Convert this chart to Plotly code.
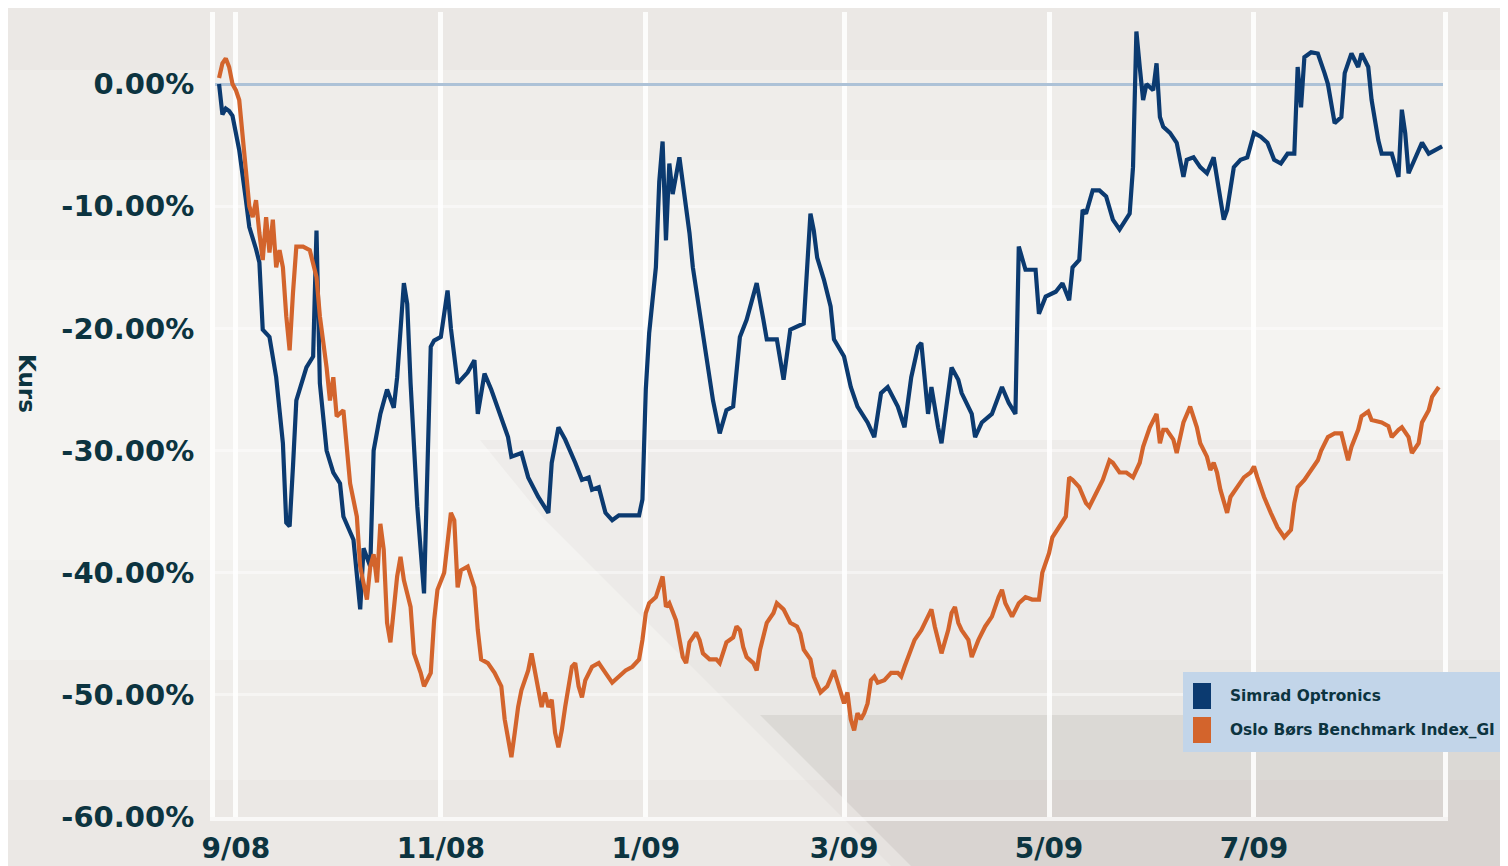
import plotly.graph_objects as go

# ---------------- data (percent change) ----------------
simrad_dates = [
    "2008-08-27", "2008-08-28", "2008-08-29", "2008-08-30", "2008-08-31", "2008-09-02", "2008-09-04",
    "2008-09-05", "2008-09-07", "2008-09-08", "2008-09-09", "2008-09-11", "2008-09-13", "2008-09-15",
    "2008-09-16", "2008-09-17", "2008-09-18", "2008-09-19", "2008-09-22", "2008-09-24", "2008-09-25",
    "2008-09-26", "2008-09-28", "2008-09-30", "2008-10-02", "2008-10-03", "2008-10-06", "2008-10-08",
    "2008-10-09", "2008-10-11", "2008-10-12", "2008-10-14", "2008-10-16", "2008-10-18", "2008-10-19",
    "2008-10-21", "2008-10-22", "2008-10-23", "2008-10-25", "2008-10-27", "2008-10-29", "2008-10-30",
    "2008-11-01", "2008-11-03", "2008-11-04", "2008-11-06", "2008-11-09", "2008-11-11", "2008-11-12",
    "2008-11-14", "2008-11-16", "2008-11-19", "2008-11-21", "2008-11-22", "2008-11-25", "2008-11-27",
    "2008-11-30", "2008-12-03", "2008-12-04", "2008-12-06", "2008-12-08", "2008-12-11", "2008-12-13",
    "2008-12-15", "2008-12-16", "2008-12-18", "2008-12-20", "2008-12-22", "2008-12-24", "2008-12-30",
    "2008-12-31", "2009-01-01", "2009-01-02", "2009-01-04", "2009-01-05", "2009-01-06", "2009-01-07",
    "2009-01-08", "2009-01-09", "2009-01-11", "2009-01-13", "2009-01-14", "2009-01-15", "2009-01-17",
    "2009-01-19", "2009-01-21", "2009-01-23", "2009-01-25", "2009-01-27", "2009-01-29", "2009-01-31",
    "2009-02-03", "2009-02-05", "2009-02-06", "2009-02-09", "2009-02-11", "2009-02-13", "2009-02-17",
    "2009-02-19", "2009-02-20", "2009-02-21", "2009-02-23", "2009-02-25", "2009-02-26", "2009-03-01",
    "2009-03-03", "2009-03-05", "2009-03-08", "2009-03-10", "2009-03-12", "2009-03-14", "2009-03-17",
    "2009-03-19", "2009-03-21", "2009-03-23", "2009-03-24", "2009-03-26", "2009-03-27", "2009-03-29",
    "2009-03-30", "2009-04-02", "2009-04-04", "2009-04-05", "2009-04-08", "2009-04-09", "2009-04-11",
    "2009-04-14", "2009-04-17", "2009-04-19", "2009-04-21", "2009-04-22", "2009-04-24", "2009-04-27",
    "2009-04-28", "2009-04-30", "2009-05-03", "2009-05-05", "2009-05-07", "2009-05-08", "2009-05-10",
    "2009-05-11", "2009-05-12", "2009-05-14", "2009-05-16", "2009-05-18", "2009-05-20", "2009-05-22",
    "2009-05-24", "2009-05-25", "2009-05-26", "2009-05-27", "2009-05-28", "2009-05-29", "2009-05-30",
    "2009-06-01", "2009-06-02", "2009-06-03", "2009-06-04", "2009-06-06", "2009-06-08", "2009-06-10",
    "2009-06-11", "2009-06-13", "2009-06-15", "2009-06-17", "2009-06-19", "2009-06-20", "2009-06-22",
    "2009-06-23", "2009-06-25", "2009-06-27", "2009-06-29", "2009-07-01", "2009-07-03", "2009-07-05",
    "2009-07-07", "2009-07-09", "2009-07-11", "2009-07-13", "2009-07-14", "2009-07-15", "2009-07-16",
    "2009-07-18", "2009-07-20", "2009-07-22", "2009-07-23", "2009-07-25", "2009-07-27", "2009-07-28",
    "2009-07-30", "2009-08-01", "2009-08-02", "2009-08-04", "2009-08-05", "2009-08-07", "2009-08-08",
    "2009-08-11", "2009-08-13", "2009-08-14", "2009-08-15", "2009-08-16", "2009-08-19", "2009-08-20",
    "2009-08-22", "2009-08-24", "2009-08-26",
]
simrad_values = [
    0.0, -2.5, -2.0, -2.2, -2.6, -5.4, -9.5,
    -11.7, -13.5, -14.6, -20.1, -20.7, -24.0, -29.4,
    -35.9, -36.2, -31.3, -25.9, -23.2, -22.3, -12.0,
    -24.5, -30.0, -31.8, -32.7, -35.4, -37.3, -43.0,
    -38.0, -39.5, -30.0, -27.0, -25.0, -26.5, -24.0,
    -16.3, -18.0, -24.5, -34.6, -41.7, -21.5, -21.0,
    -20.7, -16.9, -20.0, -24.5, -23.6, -22.6, -27.0,
    -23.7, -25.0, -27.2, -28.9, -30.5, -30.2, -32.2,
    -33.8, -35.1, -31.0, -28.1, -29.1, -31.0, -32.4,
    -32.2, -33.2, -33.0, -35.1, -35.7, -35.3, -35.3,
    -34.0, -25.0, -20.4, -15.0, -8.0, -4.7, -12.8,
    -6.5, -9.0, -6.0, -10.0, -12.2, -15.0, -18.8,
    -22.3, -25.9, -28.6, -26.7, -26.4, -20.7, -19.3,
    -16.3, -19.3, -20.9, -20.9, -24.2, -20.1, -19.6,
    -10.6, -12.0, -14.2, -16.0, -18.2, -20.9, -22.3,
    -24.8, -26.4, -27.7, -28.9, -25.3, -24.8, -26.4,
    -28.1, -24.0, -21.5, -21.2, -27.0, -24.8, -28.1,
    -29.4, -23.2, -24.2, -25.3, -27.0, -28.9, -27.7,
    -27.0, -24.8, -26.1, -27.0, -13.3, -15.2, -15.2,
    -18.8, -17.4, -17.0, -16.3, -17.7, -15.0, -14.4,
    -10.3, -10.6, -8.7, -8.7, -9.2, -11.1, -11.9,
    -11.1, -10.6, -6.8, 4.3, 1.4, -1.3, 0.0,
    -0.5, 1.7, -2.7, -3.5, -4.0, -4.8, -7.6,
    -6.2, -6.0, -6.8, -7.3, -6.0, -7.6, -11.1,
    -10.3, -6.8, -6.2, -6.0, -4.0, -4.3, -4.8,
    -6.2, -6.5, -5.7, -5.7, 1.4, -1.9, 2.2,
    2.6, 2.5, 0.9, 0.0, -3.2, -2.7, 0.9,
    2.5, 1.4, 2.5, 1.4, -1.3, -4.6, -5.7,
    -5.7, -7.6, -2.1, -4.0, -7.3, -5.4, -4.8,
    -5.7, -5.4, -5.1,
]

oslo_dates = [
    "2008-08-27", "2008-08-28", "2008-08-29", "2008-08-30", "2008-08-31", "2008-09-01", "2008-09-02",
    "2008-09-03", "2008-09-04", "2008-09-05", "2008-09-06", "2008-09-07", "2008-09-08", "2008-09-09",
    "2008-09-10", "2008-09-11", "2008-09-12", "2008-09-13", "2008-09-14", "2008-09-15", "2008-09-16",
    "2008-09-17", "2008-09-18", "2008-09-19", "2008-09-21", "2008-09-23", "2008-09-25", "2008-09-26",
    "2008-09-28", "2008-09-29", "2008-09-30", "2008-10-01", "2008-10-03", "2008-10-04", "2008-10-05",
    "2008-10-07", "2008-10-08", "2008-10-10", "2008-10-11", "2008-10-12", "2008-10-13", "2008-10-14",
    "2008-10-15", "2008-10-16", "2008-10-17", "2008-10-18", "2008-10-19", "2008-10-20", "2008-10-21",
    "2008-10-22", "2008-10-23", "2008-10-24", "2008-10-26", "2008-10-27", "2008-10-29", "2008-10-30",
    "2008-10-31", "2008-11-02", "2008-11-04", "2008-11-05", "2008-11-06", "2008-11-07", "2008-11-09",
    "2008-11-11", "2008-11-12", "2008-11-13", "2008-11-15", "2008-11-17", "2008-11-19", "2008-11-20",
    "2008-11-21", "2008-11-22", "2008-11-23", "2008-11-24", "2008-11-25", "2008-11-27", "2008-11-28",
    "2008-11-29", "2008-12-01", "2008-12-02", "2008-12-03", "2008-12-04", "2008-12-05", "2008-12-06",
    "2008-12-07", "2008-12-08", "2008-12-09", "2008-12-10", "2008-12-11", "2008-12-12", "2008-12-13",
    "2008-12-14", "2008-12-16", "2008-12-18", "2008-12-20", "2008-12-22", "2008-12-24", "2008-12-26",
    "2008-12-28", "2008-12-30", "2008-12-31", "2009-01-01", "2009-01-02", "2009-01-04", "2009-01-06",
    "2009-01-07", "2009-01-08", "2009-01-10", "2009-01-12", "2009-01-13", "2009-01-14", "2009-01-16",
    "2009-01-17", "2009-01-18", "2009-01-20", "2009-01-22", "2009-01-23", "2009-01-25", "2009-01-27",
    "2009-01-28", "2009-01-29", "2009-01-30", "2009-01-31", "2009-02-02", "2009-02-03", "2009-02-04",
    "2009-02-06", "2009-02-08", "2009-02-09", "2009-02-11", "2009-02-13", "2009-02-15", "2009-02-16",
    "2009-02-17", "2009-02-19", "2009-02-20", "2009-02-22", "2009-02-24", "2009-02-26", "2009-02-27",
    "2009-02-28", "2009-03-01", "2009-03-02", "2009-03-03", "2009-03-04", "2009-03-05", "2009-03-06",
    "2009-03-07", "2009-03-08", "2009-03-09", "2009-03-10", "2009-03-11", "2009-03-13", "2009-03-15",
    "2009-03-17", "2009-03-18", "2009-03-19", "2009-03-20", "2009-03-22", "2009-03-24", "2009-03-26",
    "2009-03-27", "2009-03-28", "2009-03-29", "2009-03-30", "2009-04-01", "2009-04-02", "2009-04-03",
    "2009-04-04", "2009-04-05", "2009-04-07", "2009-04-08", "2009-04-10", "2009-04-12", "2009-04-14",
    "2009-04-16", "2009-04-17", "2009-04-18", "2009-04-19", "2009-04-20", "2009-04-22", "2009-04-24",
    "2009-04-26", "2009-04-28", "2009-04-29", "2009-05-01", "2009-05-02", "2009-05-04", "2009-05-06",
    "2009-05-07", "2009-05-08", "2009-05-10", "2009-05-12", "2009-05-13", "2009-05-15", "2009-05-17",
    "2009-05-19", "2009-05-20", "2009-05-22", "2009-05-24", "2009-05-26", "2009-05-27", "2009-05-28",
    "2009-05-29", "2009-05-30", "2009-05-31", "2009-06-02", "2009-06-03", "2009-06-04", "2009-06-05",
    "2009-06-07", "2009-06-08", "2009-06-10", "2009-06-12", "2009-06-14", "2009-06-15", "2009-06-17",
    "2009-06-18", "2009-06-19", "2009-06-20", "2009-06-21", "2009-06-23", "2009-06-24", "2009-06-26",
    "2009-06-28", "2009-06-30", "2009-07-01", "2009-07-02", "2009-07-04", "2009-07-06", "2009-07-08",
    "2009-07-10", "2009-07-12", "2009-07-13", "2009-07-14", "2009-07-16", "2009-07-18", "2009-07-20",
    "2009-07-21", "2009-07-23", "2009-07-25", "2009-07-27", "2009-07-28", "2009-07-29", "2009-07-30",
    "2009-08-01", "2009-08-02", "2009-08-04", "2009-08-05", "2009-08-08", "2009-08-10", "2009-08-11",
    "2009-08-13", "2009-08-14", "2009-08-16", "2009-08-17", "2009-08-19", "2009-08-20", "2009-08-22",
    "2009-08-23", "2009-08-25",
]
oslo_values = [
    0.5, 1.7, 2.1, 1.4, 0.0, -0.5, -1.3,
    -4.0, -6.8, -10.0, -10.9, -9.5, -12.2, -14.4,
    -10.9, -13.8, -11.1, -15.0, -13.6, -15.0, -19.0,
    -21.8, -17.1, -13.3, -13.3, -13.6, -15.8, -19.0,
    -23.2, -25.9, -24.0, -27.2, -26.7, -29.4, -32.7,
    -35.4, -39.5, -42.2, -39.5, -38.5, -40.8, -36.0,
    -38.1, -44.1, -45.7, -43.0, -40.3, -38.7, -40.6,
    -41.7, -42.8, -46.6, -48.2, -49.3, -48.2, -43.9,
    -41.4, -40.0, -35.1, -35.7, -41.2, -39.8, -39.5,
    -41.2, -44.7, -47.1, -47.4, -48.2, -49.3, -52.0,
    -53.7, -55.1, -53.1, -51.0, -49.6, -48.0, -46.6,
    -48.2, -51.0, -49.8, -51.0, -50.4, -53.1, -54.3,
    -52.9, -51.0, -49.3, -47.7, -47.4, -49.3, -50.2,
    -48.8, -47.7, -47.4, -48.2, -49.0, -48.5, -48.0,
    -47.7, -47.1, -45.5, -43.3, -42.5, -42.0, -40.3,
    -42.8, -42.5, -43.9, -46.9, -47.4, -45.7, -44.9,
    -45.5, -46.6, -47.1, -47.1, -47.4, -45.7, -45.3,
    -44.4, -44.7, -46.1, -46.9, -47.4, -48.0, -46.3,
    -44.1, -43.3, -42.5, -43.0, -44.1, -44.4, -45.0,
    -46.3, -47.1, -48.5, -49.8, -49.3, -48.0, -49.0,
    -49.8, -50.7, -49.8, -52.0, -52.9, -51.5, -52.0,
    -51.5, -50.7, -48.8, -48.5, -49.0, -48.8, -48.2,
    -48.2, -48.5, -47.7, -46.9, -45.5, -44.7, -43.6,
    -43.0, -44.4, -45.7, -46.6, -44.7, -43.3, -42.8,
    -44.1, -44.7, -45.5, -46.9, -45.5, -44.4, -43.6,
    -42.0, -41.4, -42.5, -43.0, -43.6, -42.5, -42.0,
    -42.2, -42.2, -40.0, -38.4, -37.1, -36.3, -35.4,
    -32.2, -32.4, -33.0, -34.3, -34.6, -33.5, -32.4,
    -30.8, -31.0, -31.8, -31.8, -32.2, -31.6, -31.0,
    -29.7, -28.9, -28.1, -27.0, -29.4, -28.3, -28.3,
    -29.1, -30.2, -27.7, -26.4, -28.1, -29.4, -30.5,
    -31.6, -31.0, -31.8, -33.2, -35.1, -33.8, -33.0,
    -32.2, -31.8, -31.3, -32.2, -33.8, -35.1, -36.3,
    -37.1, -36.5, -34.3, -33.0, -32.4, -31.6, -30.8,
    -30.0, -28.9, -28.6, -28.6, -29.7, -30.8, -29.7,
    -28.3, -27.2, -26.8, -27.5, -27.7, -28.0, -28.9,
    -28.3, -28.1, -28.9, -30.2, -29.4, -27.7, -26.7,
    -25.6, -24.8,
]

series_names = ["Simrad Optronics", "Oslo Børs Benchmark Index_GI"]
series_colors = ["#0b3a70", "#d3642c"]

x_tickvals = ["2008-09-01", "2008-11-01", "2009-01-01", "2009-03-01", "2009-05-01", "2009-07-01"]
x_ticktext = ["9/08", "11/08", "1/09", "3/09", "5/09", "7/09"]
y_tickvals = [0, -10, -20, -30, -40, -50, -60]
y_ticktext = ["0.00%", "-10.00%", "-20.00%", "-30.00%", "-40.00%", "-50.00%", "-60.00%"]
y_title = "Kurs"

# ---------------- figure ----------------
# the page body adds an 8px offset, so margins are reduced by 8px on the left/top
W, H = 1508, 866
PAGE_OFF = 8
PLOT_L, PLOT_T, PLOT_R, PLOT_B = 215, 12, 1443, 817      # target position on the page
PW, PH = PLOT_R - PLOT_L, PLOT_B - PLOT_T
ML, MT = PLOT_L - PAGE_OFF, PLOT_T - PAGE_OFF
MR, MB = W - ML - PW, H - MT - PH

def px(xp):
    return (xp - PLOT_L) / PW

def py(yp):
    return (PLOT_B - yp) / PH

TEXT = "#0c3440"
FONT = "DejaVu Sans"

fig = go.Figure()
fig.add_trace(go.Scatter(x=simrad_dates, y=simrad_values, mode="lines", name=series_names[0],
                         line=dict(color=series_colors[0], width=4.2), showlegend=False))
fig.add_trace(go.Scatter(x=oslo_dates, y=oslo_values, mode="lines", name=series_names[1],
                         line=dict(color=series_colors[1], width=4.2), showlegend=False))

shapes = []
# soft vertical gradient of the background
for (ya, yb, op) in [(70, 780, 0.22), (160, 660, 0.22), (260, 560, 0.2)]:
    shapes.append(dict(type="rect", xref="paper", yref="paper", x0=-0.3, x1=1.2, y0=py(yb), y1=py(ya),
                       fillcolor="white", opacity=op, line_width=0, layer="below"))
# hatched grey region lower right
shapes.append(dict(type="path", xref="paper", yref="paper", layer="below", line_width=0,
                   fillcolor="rgba(150,144,138,0.06)",
                   path=f"M {px(480)} {py(440)} L {px(1530)} {py(440)} L {px(1530)} {py(890)} "
                        f"L {px(915)} {py(890)} L {px(545)} {py(520)} Z"))
# darker band at the bottom right
shapes.append(dict(type="path", xref="paper", yref="paper", layer="below", line_width=0,
                   fillcolor="rgba(130,124,118,0.13)",
                   path=f"M {px(760)} {py(715)} L {px(1530)} {py(715)} L {px(1530)} {py(890)} "
                        f"L {px(935)} {py(890)} Z"))
# legend box
shapes.append(dict(type="rect", xref="paper", yref="paper", x0=px(1183), x1=px(1530),
                   y0=py(752), y1=py(672), fillcolor="#c2d5e9", line_width=0, layer="above"))
for i, (y0, y1) in enumerate([(683, 709), (717, 743)]):
    shapes.append(dict(type="rect", xref="paper", yref="paper", x0=px(1193), x1=px(1211),
                       y0=py(y1), y1=py(y0), fillcolor=series_colors[i], line_width=0, layer="above"))

annotations = []
for i, yc in enumerate([696, 730]):
    annotations.append(dict(xref="paper", yref="paper", x=px(1228), y=py(yc), xanchor="left",
                            yanchor="middle", showarrow=False, text=series_names[i],
                            font=dict(family=FONT, size=15.4, color=TEXT, weight="bold")))
annotations.append(dict(xref="paper", yref="paper", x=px(27), y=py(384), xanchor="center",
                        yanchor="middle", showarrow=False, text=y_title, textangle=90,
                        font=dict(family=FONT, size=23, color=TEXT, weight="bold")))

fig.update_layout(
    width=W, height=H,
    margin=dict(l=ML, r=MR, t=MT, b=MB, pad=0, autoexpand=False),
    paper_bgcolor="#ebe8e5",
    plot_bgcolor="rgba(0,0,0,0)",
    showlegend=False,
    shapes=shapes,
    annotations=annotations,
    xaxis=dict(
        type="date", automargin=False,
        range=["2008-08-25 19:00", "2009-08-26 06:00"],
        tickmode="array", tickvals=x_tickvals, ticktext=x_ticktext,
        tickfont=dict(family=FONT, size=28, color=TEXT, weight="bold"),
        ticks="outside", ticklen=3, tickcolor="rgba(0,0,0,0)",
        showgrid=True, gridcolor="rgba(255,255,255,0.85)", gridwidth=5,
        showline=True, linecolor="rgba(255,255,255,0.7)", linewidth=4, zeroline=False,
    ),
    yaxis=dict(
        automargin=False,
        range=[-60, 5.9],
        tickmode="array", tickvals=y_tickvals, ticktext=y_ticktext,
        tickfont=dict(family=FONT, size=29, color=TEXT, weight="bold"),
        ticks="outside", ticklen=10, tickcolor="rgba(0,0,0,0)",
        showgrid=True, gridcolor="rgba(255,255,255,0.45)", gridwidth=3,
        zeroline=True, zerolinecolor="#adc2d7", zerolinewidth=3,
        showline=True, mirror=True, linecolor="rgba(255,255,255,0.85)", linewidth=5,
    ),
)

fig.write_html("out.html")
